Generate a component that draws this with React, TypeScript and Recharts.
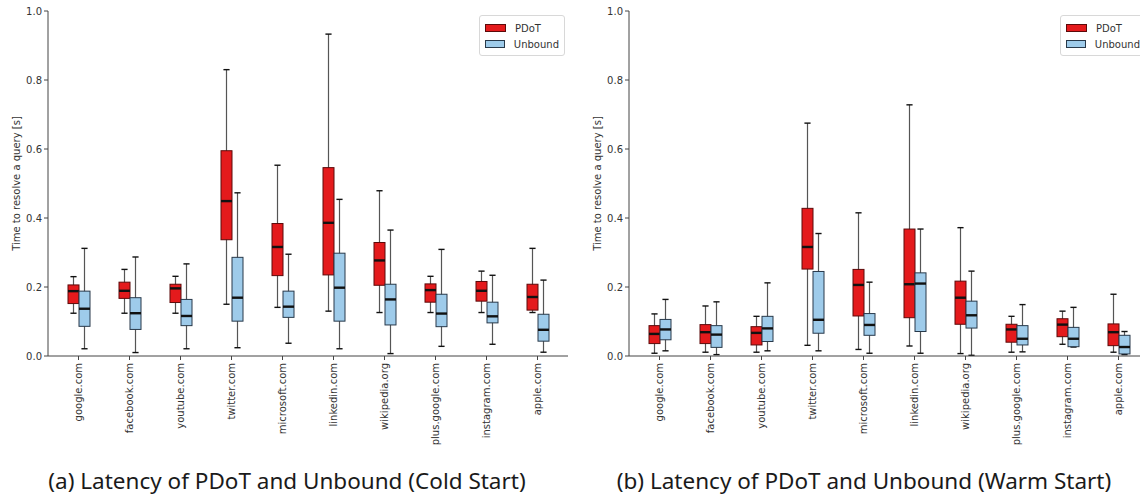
import React from 'react';
import { BarChart, Bar, XAxis, YAxis, Legend } from 'recharts';

const categories = ['google.com', 'facebook.com', 'youtube.com', 'twitter.com', 'microsoft.com', 'linkedin.com', 'wikipedia.org', 'plus.google.com', 'instagram.com', 'apple.com'];

const yTicks = [0, 0.2, 0.4, 0.6, 0.8, 1.0];

// each entry: [low whisker, Q1, median, Q3, high whisker] in seconds
const coldPDoT = [
  [0.124, 0.152, 0.188, 0.206, 0.230],
  [0.124, 0.167, 0.189, 0.214, 0.251],
  [0.124, 0.155, 0.196, 0.208, 0.231],
  [0.150, 0.337, 0.449, 0.595, 0.830],
  [0.141, 0.233, 0.316, 0.384, 0.553],
  [0.130, 0.235, 0.386, 0.546, 0.933],
  [0.126, 0.205, 0.277, 0.329, 0.479],
  [0.126, 0.156, 0.191, 0.209, 0.231],
  [0.126, 0.159, 0.189, 0.216, 0.246],
  [0.126, 0.133, 0.171, 0.208, 0.312],
];
const coldUnbound = [
  [0.021, 0.086, 0.137, 0.188, 0.312],
  [0.010, 0.077, 0.124, 0.169, 0.287],
  [0.021, 0.088, 0.116, 0.164, 0.267],
  [0.024, 0.101, 0.169, 0.286, 0.473],
  [0.037, 0.112, 0.143, 0.188, 0.295],
  [0.021, 0.101, 0.198, 0.298, 0.454],
  [0.007, 0.090, 0.164, 0.208, 0.365],
  [0.028, 0.085, 0.123, 0.179, 0.309],
  [0.034, 0.096, 0.115, 0.156, 0.234],
  [0.011, 0.043, 0.076, 0.121, 0.220],
];
const warmPDoT = [
  [0.008, 0.036, 0.064, 0.088, 0.122],
  [0.011, 0.036, 0.069, 0.091, 0.145],
  [0.011, 0.032, 0.067, 0.085, 0.115],
  [0.031, 0.252, 0.316, 0.428, 0.675],
  [0.019, 0.116, 0.206, 0.251, 0.415],
  [0.029, 0.111, 0.208, 0.368, 0.728],
  [0.007, 0.092, 0.169, 0.217, 0.372],
  [0.011, 0.040, 0.077, 0.092, 0.115],
  [0.034, 0.056, 0.091, 0.108, 0.130],
  [0.011, 0.030, 0.069, 0.093, 0.179],
];
const warmUnbound = [
  [0.015, 0.047, 0.077, 0.106, 0.164],
  [0.004, 0.025, 0.062, 0.088, 0.157],
  [0.015, 0.042, 0.080, 0.115, 0.212],
  [0.015, 0.066, 0.105, 0.245, 0.355],
  [0.008, 0.060, 0.090, 0.123, 0.214],
  [0.008, 0.071, 0.210, 0.241, 0.368],
  [0.002, 0.081, 0.118, 0.159, 0.246],
  [0.012, 0.032, 0.050, 0.088, 0.149],
  [0.026, 0.027, 0.050, 0.083, 0.141],
  [0.004, 0.006, 0.026, 0.060, 0.071],
];

const RED = '#e41a1c';
const RED_EDGE = '#5c0a0a';
const BLUE = '#9ecbea';
const BLUE_EDGE = '#28394a';
const AXIS = '#444';
const FONT = 'DejaVu Sans, sans-serif';

const buildRows = (pdot: number[][], unbound: number[][]) =>
  categories.map((name, i) => ({ name, p: pdot[i], u: unbound[i] }));

const coldRows = buildRows(coldPDoT, coldUnbound);
const warmRows = buildRows(warmPDoT, warmUnbound);

const makeBoxShape = (key: 'p' | 'u', fill: string, edge: string) => (props: any) => {
  const { x, y, width, height, payload } = props;
  const s = payload[key];
  const [lo, q1, med, q3, hi] = s;
  const top = Math.min(y, y + height);
  const h = Math.abs(height);
  const span = hi - lo || 1;
  const py = (v: number) => top + ((hi - v) / span) * h;
  const cx = x + width / 2;
  const capHalf = width * 0.28;
  return (
    <g>
      <line x1={cx} x2={cx} y1={py(hi)} y2={py(lo)} stroke="#555" strokeWidth={1.2} />
      <line x1={cx - capHalf} x2={cx + capHalf} y1={py(hi)} y2={py(hi)} stroke="#111" strokeWidth={1.4} />
      <line x1={cx - capHalf} x2={cx + capHalf} y1={py(lo)} y2={py(lo)} stroke="#111" strokeWidth={1.4} />
      <rect x={x} y={py(q3)} width={width} height={Math.max(py(q1) - py(q3), 0.5)} fill={fill} stroke={edge} strokeWidth={1} />
      <line x1={x} x2={x + width} y1={py(med)} y2={py(med)} stroke="#111" strokeWidth={2.4} />
    </g>
  );
};

const XTick = (props: any) => {
  const { x, y, payload } = props;
  return (
    <text
      x={x}
      y={y}
      transform={`rotate(-90 ${x} ${y})`}
      textAnchor="end"
      dominantBaseline="central"
      fontSize={10}
      fontFamily={FONT}
      fill="#333"
    >
      {payload.value}
    </text>
  );
};

const YLabel = (props: any) => {
  const vb = props.viewBox || {};
  const cx = (vb.x || 0) + 16;
  const cy = (vb.y || 0) + (vb.height || 0) / 2;
  return (
    <text
      x={cx}
      y={cy}
      transform={`rotate(-90 ${cx} ${cy})`}
      textAnchor="middle"
      dominantBaseline="central"
      fontSize={10}
      fontFamily={FONT}
      fill="#333"
    >
      Time to resolve a query [s]
    </text>
  );
};

const LegendBox = () => (
  <div
    style={{
      border: '1px solid #d8d8d8',
      borderRadius: 3,
      background: 'rgba(255,255,255,0.85)',
      padding: '4px 5px 3px 5px',
      fontFamily: FONT,
      fontSize: 10,
      color: '#333',
      width: 74,
    }}
  >
    {[
      { label: 'PDoT', fill: RED, edge: RED_EDGE },
      { label: 'Unbound', fill: BLUE, edge: BLUE_EDGE },
    ].map((it) => (
      <div key={it.label} style={{ display: 'flex', alignItems: 'center', height: 16 }}>
        <span
          style={{
            display: 'inline-block',
            width: 19,
            height: 6,
            background: it.fill,
            border: `1px solid ${it.edge}`,
            marginRight: 9,
          }}
        />
        <span>{it.label}</span>
      </div>
    ))}
  </div>
);

const Panel = ({ rows, left }: { rows: any[]; left: number }) => (
  <div style={{ position: 'absolute', left, top: 0 }}>
    <BarChart
      width={575}
      height={460}
      data={rows}
      margin={{ top: 11, right: 7, bottom: 0, left: 0 }}
      barSize={11}
      barGap={0}
    >
      <XAxis
        dataKey="name"
        type="category"
        interval={0}
        padding={{ left: 5, right: 5 }}
        height={104}
        tickSize={4}
        tickMargin={3}
        tick={<XTick />}
        axisLine={{ stroke: AXIS }}
        tickLine={{ stroke: AXIS }}
      />
      <XAxis
        xAxisId="top"
        orientation="top"
        dataKey="name"
        height={0}
        tick={false}
        tickLine={false}
        axisLine={{ stroke: AXIS }}
      />
      <YAxis
        type="number"
        domain={[0, 1]}
        ticks={yTicks}
        allowDataOverflow
        width={48}
        tickSize={4}
        tickMargin={2}
        tickFormatter={(v: number) => v.toFixed(1)}
        tick={{ fontSize: 10, fontFamily: FONT, fill: '#333' }}
        axisLine={{ stroke: AXIS }}
        tickLine={{ stroke: AXIS }}
        label={<YLabel />}
      />
      <YAxis
        yAxisId="right"
        orientation="right"
        type="number"
        domain={[0, 1]}
        width={0}
        tick={false}
        tickLine={false}
        axisLine={{ stroke: AXIS }}
      />
      <Legend
        layout="vertical"
        align="center"
        verticalAlign="middle"
        wrapperStyle={{ left: 479, top: 15, width: 'auto', height: 'auto' }}
        content={() => <LegendBox />}
      />
      <Bar
        name="PDoT"
        dataKey={(d: any) => [d.p[0], d.p[4]]}
        fill={RED}
        isAnimationActive={false}
        shape={makeBoxShape('p', RED, RED_EDGE)}
      />
      <Bar
        name="Unbound"
        dataKey={(d: any) => [d.u[0], d.u[4]]}
        fill={BLUE}
        isAnimationActive={false}
        shape={makeBoxShape('u', BLUE, BLUE_EDGE)}
      />
    </BarChart>
  </div>
);

const captionStyle: React.CSSProperties = {
  position: 'absolute',
  top: 468,
  fontFamily: 'Noto Sans, sans-serif',
  fontSize: 22.5,
  lineHeight: '26px',
  color: '#1a1a1a',
  whiteSpace: 'nowrap',
  transform: 'translateX(-50%)',
};

export default function App() {
  return (
    <div
      style={{
        position: 'absolute',
        left: 0,
        top: 0,
        width: 1140,
        height: 497,
        overflow: 'hidden',
        background: '#fff',
      }}
    >
      <Panel rows={coldRows} left={0} />
      <Panel rows={warmRows} left={581} />
      <div style={{ ...captionStyle, left: 287 }}>(a) Latency of PDoT and Unbound (Cold Start)</div>
      <div style={{ ...captionStyle, left: 864 }}>(b) Latency of PDoT and Unbound (Warm Start)</div>
    </div>
  );
}
